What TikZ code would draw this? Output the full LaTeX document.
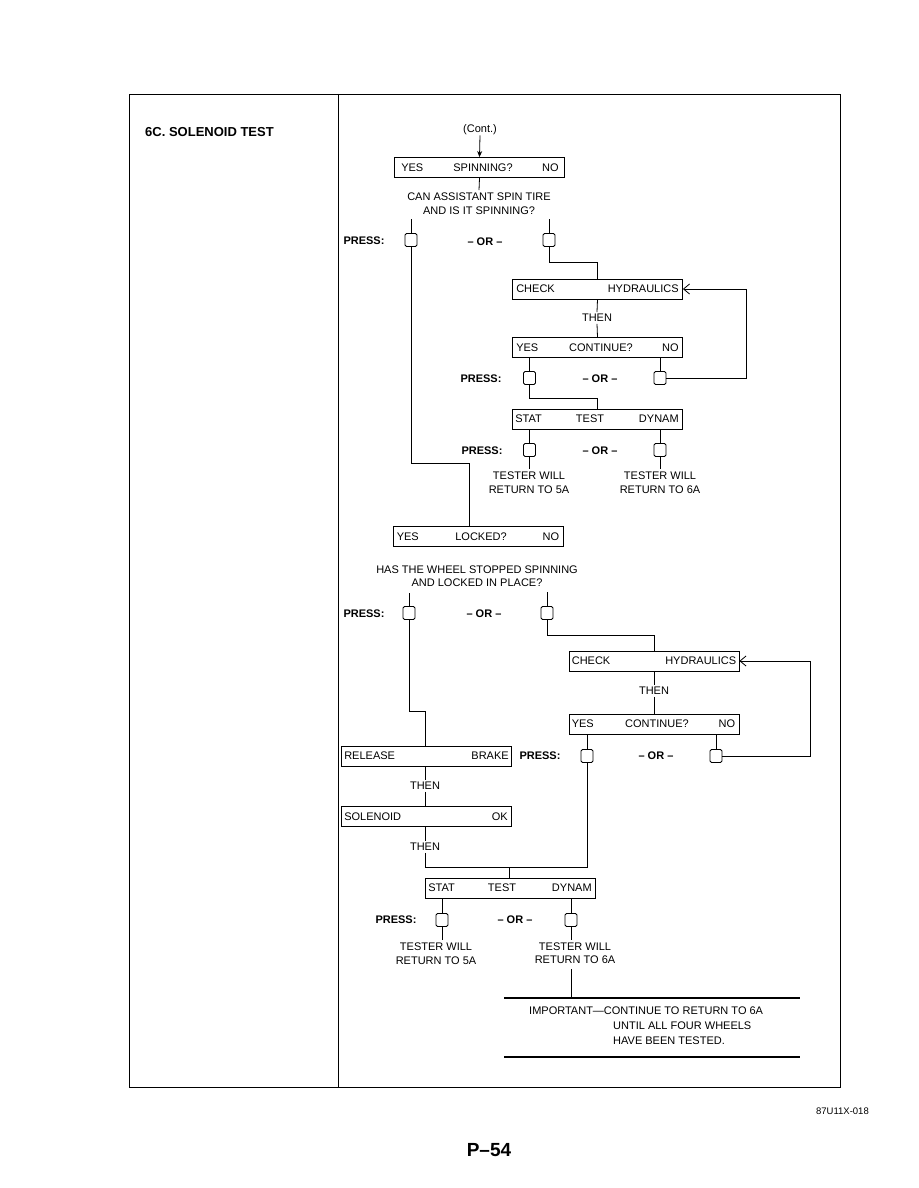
\documentclass[tikz,border=0pt]{standalone}
\usepackage{fontspec}
\setmainfont{Liberation Sans}
\usetikzlibrary{arrows.meta}
\begin{document}
\begin{tikzpicture}[x=1pt,y=-1pt,
  every node/.style={font=\fontsize{11}{13.5}\selectfont, inner sep=0pt},
  box/.style={draw, line width=0.8pt, minimum width=170pt, minimum height=20pt},
  btn/.style={draw, line width=0.8pt, minimum width=12pt, minimum height=13pt, rounded corners=1.5pt},
  bld/.style={font=\fontsize{11}{13.5}\selectfont\bfseries},
  two/.style={align=center, inner sep=2.5pt},
  ln/.style={line width=0.8pt},
  loopar/.style={line width=0.8pt, -{Straight Barb[length=6pt,width=10pt]}},
  rule/.style={line width=2pt},
]
\useasboundingbox (0,0) rectangle (918,1188);

% frame
\draw[line width=0.9pt] (129,94) rectangle (840,1087);
\draw[line width=0.9pt] (338,94) -- (338,1087);
\node[anchor=west, font=\fontsize{13}{15}\selectfont\bfseries] (title) at (145,132) {6C. SOLENOID TEST};

% ---------- upper part ----------
\node (cont) at (480,130) {(Cont.)};
\node[box] (b1) at (479.5,167.5) {};
\node (b1c) at (483,167.5) {SPINNING?};
\node[anchor=west] (b1y) at ([xshift=7pt]b1.west) {YES};
\node[anchor=east] (b1n) at ([xshift=-6pt]b1.east) {NO};
\draw[ln, -{Stealth[length=6pt,width=5pt]}] (cont.south) -- (b1.north);
\node[two] (q1) at (479,203.5) {CAN ASSISTANT SPIN TIRE\\AND IS IT SPINNING?};
\draw[ln] (b1.south) -- (q1.north);

\node[bld] (pr1) at (364,241) {PRESS:};
\node[bld] (or1) at (485,242) {– OR –};
\node[btn] (p1a) at (411,240) {};
\node[btn] (p1b) at (549,240) {};
\coordinate (t1a) at (411,219);
\coordinate (t1b) at (549,219);
\draw[ln] (t1a) -- (p1a.north);
\draw[ln] (t1b) -- (p1b.north);

\node[box] (chk1) at (597.5,289) {};
\node[anchor=west] (chk1l) at ([xshift=4pt]chk1.west) {CHECK};
\node[anchor=east] (chk1r) at ([xshift=-4pt]chk1.east) {HYDRAULICS};
\draw[ln] (p1b.south) -- ++(0,15) -| (chk1.north);
\node (then1) at (597,318) {THEN};
\node[box] (con1) at (597.5,347.5) {};
\node (con1c) at (601,347.5) {CONTINUE?};
\node[anchor=west] (con1y) at ([xshift=4pt]con1.west) {YES};
\node[anchor=east] (con1n) at ([xshift=-4pt]con1.east) {NO};
\draw[ln] (chk1.south) -- ([yshift=2pt]then1.north);
\draw[ln] ([yshift=-2pt]then1.south) -- (con1.north);

\node[bld] (pr2) at (481,379) {PRESS:};
\node[bld] (or2) at (600,379) {– OR –};
\node[btn] (p1c) at (529.5,378) {};
\node[btn] (p1d) at (660,378) {};
\draw[ln] (con1.south -| p1c) -- (p1c.north);
\draw[ln] (con1.south -| p1d) -- (p1d.north);
\draw[loopar] (p1d.east) -- (746,378) |- (chk1.east);

\node[box] (st1) at (597.5,419) {};
\node (st1c) at (590,419) {TEST};
\node[anchor=west] (st1l) at ([xshift=3pt]st1.west) {STAT};
\node[anchor=east] (st1r) at ([xshift=-4pt]st1.east) {DYNAM};
\draw[ln] (p1c.south) -- ++(0,13) -| (st1.north);

\node[bld] (pr3) at (482,451) {PRESS:};
\node[bld] (or3) at (600,451) {– OR –};
\node[btn] (p1e) at (529.5,450) {};
\node[btn] (p1f) at (660,450) {};
\draw[ln] (st1.south -| p1e) -- (p1e.north);
\draw[ln] (st1.south -| p1f) -- (p1f.north);
\node[two] (te1) at (529,482.5) {TESTER WILL\\RETURN TO 5A};
\node[two] (te2) at (660,482.5) {TESTER WILL\\RETURN TO 6A};
\draw[ln] (p1e.south) -- (p1e.south |- te1.north);
\draw[ln] (p1f.south) -- (p1f.south |- te2.north);

\node[box] (lock) at (478,536.5) {};
\node (lockc) at (481,536.5) {LOCKED?};
\node[anchor=west] (locky) at ([xshift=4pt]lock.west) {YES};
\node[anchor=east] (lockn) at ([xshift=-4pt]lock.east) {NO};
\coordinate (k1) at (469,463);
\draw[ln] (p1a.south) |- (k1) -- (k1 |- lock.north);

% ---------- lower part ----------
\node[two] (q2) at (477,576) {HAS THE WHEEL STOPPED SPINNING\\AND LOCKED IN PLACE?};
\node[bld] (pr4) at (364,614) {PRESS:};
\node[bld] (or4) at (484,614) {– OR –};
\node[btn] (p2a) at (409,613) {};
\node[btn] (p2b) at (547,613) {};
\coordinate (t2a) at (409,593);
\coordinate (t2b) at (547,592);
\draw[ln] (t2a) -- (p2a.north);
\draw[ln] (t2b) -- (p2b.north);

\node[box] (chk2) at (654,661) {};
\node[anchor=west] (chk2l) at ([xshift=3pt]chk2.west) {CHECK};
\node[anchor=east] (chk2r) at ([xshift=-3pt]chk2.east) {HYDRAULICS};
\draw[ln] (p2b.south) -- ++(0,15) -| (chk2.north);
\node (then2) at (654,691) {THEN};
\node[box] (con2) at (654,724) {};
\node (con2c) at (657,724) {CONTINUE?};
\node[anchor=west] (con2y) at ([xshift=3pt]con2.west) {YES};
\node[anchor=east] (con2n) at ([xshift=-4pt]con2.east) {NO};
\draw[ln] (chk2.south) -- ([yshift=2pt]then2.north);
\draw[ln] ([yshift=-2pt]then2.south) -- (con2.north);

\node[bld] (pr5) at (540,756) {PRESS:};
\node[bld] (or5) at (656,756) {– OR –};
\node[btn] (p2c) at (587,756) {};
\node[btn] (p2d) at (716,756) {};
\draw[ln] (con2.south -| p2c) -- (p2c.north);
\draw[ln] (con2.south -| p2d) -- (p2d.north);
\draw[loopar] (p2d.east) -- (810,756) |- (chk2.east);

\node[box] (rel) at (426.5,756) {};
\node[anchor=west] (rell) at ([xshift=3pt]rel.west) {RELEASE};
\node[anchor=east] (relr) at ([xshift=-3pt]rel.east) {BRAKE};
\coordinate (k2) at (425,711);
\draw[ln] (p2a.south) |- (k2) -- (k2 |- rel.north);
\node (then3) at (425,786) {THEN};
\draw[ln] (rel.south -| then3) -- ([yshift=2pt]then3.north);
\node[box] (sol) at (426.5,816.5) {};
\node[anchor=west] (soll) at ([xshift=3pt]sol.west) {SOLENOID};
\node[anchor=east] (solr) at ([xshift=-4pt]sol.east) {OK};
\draw[ln] ([yshift=-2pt]then3.south) -- (sol.north -| then3);
\node (then4) at (425,847) {THEN};
\draw[ln] (sol.south -| then4) -- ([yshift=2pt]then4.north);

\node[box] (st2) at (510.5,888) {};
\node (st2c) at (502,888) {TEST};
\node[anchor=west] (st2l) at ([xshift=3pt]st2.west) {STAT};
\node[anchor=east] (st2r) at ([xshift=-4pt]st2.east) {DYNAM};
\coordinate (k3) at (509,867);
\draw[ln] ([yshift=-2pt]then4.south) |- (k3) -| (p2c.south);
\draw[ln] (k3) -- (k3 |- st2.north);

\node[bld] (pr6) at (396,920) {PRESS:};
\node[bld] (or6) at (515,920) {– OR –};
\node[btn] (p2e) at (442,920) {};
\node[btn] (p2f) at (571,920) {};
\draw[ln] (st2.south -| p2e) -- (p2e.north);
\draw[ln] (st2.south -| p2f) -- (p2f.north);
\node[two] (te3) at (436,953.5) {TESTER WILL\\RETURN TO 5A};
\node[two] (te4) at (575,953) {TESTER WILL\\RETURN TO 6A};
\draw[ln] (p2e.south) -- (p2e.south |- te3.north);
\draw[ln] (p2f.south) -- (p2f.south |- te4.north);

\coordinate (ru1a) at (504,998);
\coordinate (ru1b) at (800,998);
\coordinate (ru2a) at (504,1057);
\coordinate (ru2b) at (800,1057);
\draw[ln] ([yshift=-3pt]te4.south -| p2f) -- (ru1a -| p2f);
\draw[rule] (ru1a) -- (ru1b);
\draw[rule] (ru2a) -- (ru2b);
\node[anchor=west] (imp1) at (529,1011) {IMPORTANT—CONTINUE TO RETURN TO 6A};
\node[anchor=west] (imp2) at (613,1026) {UNTIL ALL FOUR WHEELS};
\node[anchor=west] (imp3) at (613,1041) {HAVE BEEN TESTED.};

% footer
\node[anchor=east, font=\fontsize{9.5}{11}\selectfont] (fig) at (869,1111) {87U11X-018};
\node[font=\fontsize{19}{22}\selectfont\bfseries] (page) at (489,1150) {P–54};
\end{tikzpicture}
\end{document}
